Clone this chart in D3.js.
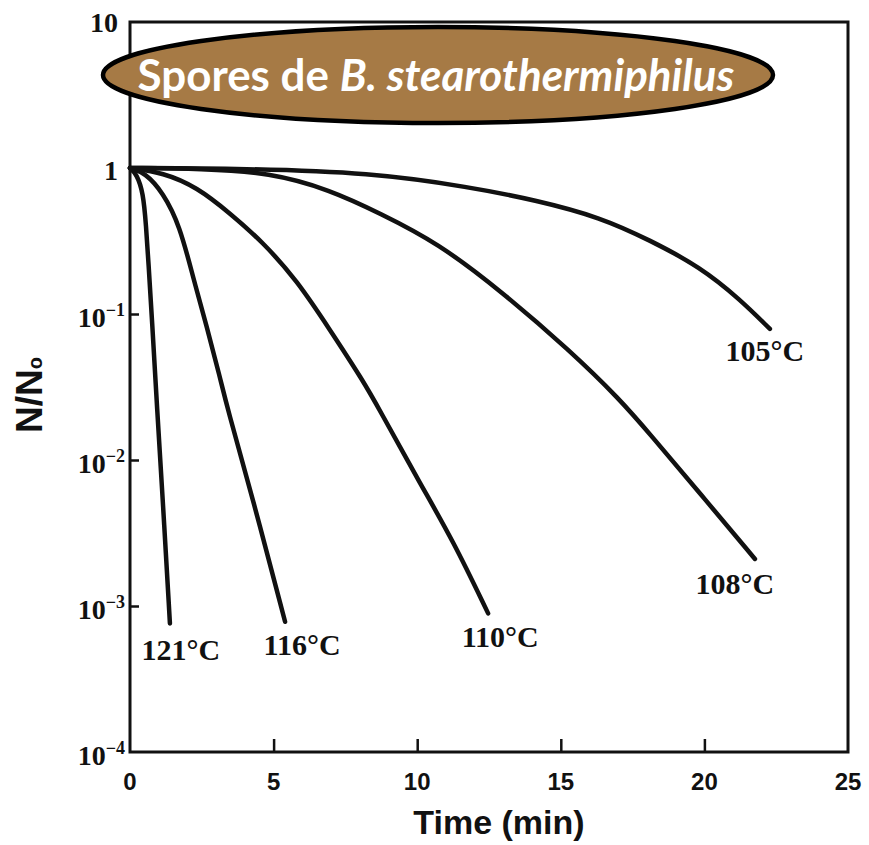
<!DOCTYPE html>
<html>
<head>
<meta charset="utf-8">
<script src="https://cdn.jsdelivr.net/npm/d3@7"></script>
<style>
  html, body { margin: 0; padding: 0; background: #fff; }
  svg { display: block; }
</style>
</head>
<body>
<svg id="chart" width="869" height="845"></svg>
<script>
// Survival curves of B. stearothermophilus spores at several temperatures
// time in minutes, survival as N/N0 (log scale)
const temps = ["121°C", "116°C", "110°C", "108°C", "105°C"];

const time121  = [0, 0.23, 0.46, 0.56, 0.64, 0.77, 0.94, 1.15, 1.39];
const ratio121 = [1, 0.91, 0.68, 0.40, 0.23, 0.089, 0.023, 0.0050, 0.00076];

const time116  = [0, 0.52, 1.15, 1.74, 2.19, 2.68, 3.13, 3.38, 4.28, 5.40];
const ratio116 = [1, 0.93, 0.68, 0.40, 0.18, 0.081, 0.037, 0.023, 0.0054, 0.00078];

const time110  = [0, 1.15, 2.33, 3.48, 4.63, 5.81, 6.96, 8.11, 8.64, 10.10, 11.25, 12.47];
const ratio110 = [1, 0.93, 0.74, 0.49, 0.31, 0.17, 0.078, 0.035, 0.023, 0.0069, 0.0028, 0.00089];

const time108  = [0, 2.5, 4.87, 6.96, 8.70, 10.69, 12.99, 15.32, 17.06, 18.11, 19.85, 21.76];
const ratio108 = [1, 0.99, 0.93, 0.71, 0.49, 0.31, 0.14, 0.056, 0.026, 0.015, 0.0059, 0.0021];

const time105  = [0, 4.0, 8.36, 11.84, 14.17, 16.37, 18.11, 19.85, 21.24, 22.28];
const ratio105 = [1, 0.99, 0.93, 0.74, 0.60, 0.46, 0.32, 0.21, 0.126, 0.079];

const xTicks = [0, 5, 10, 15, 20, 25];
const yTicks = [10, 1, 1e-1, 1e-2, 1e-3, 1e-4];
const yTickExp = ["", "", "-1", "-2", "-3", "-4"];

const title = "Spores de ";
const titleItalic = "B. stearothermiphilus";

const svg = d3.select("#chart");

const x = d3.scaleLinear().domain([0, 25]).range([130, 848]);
const y = d3.scaleLog().domain([1e-4, 10]).range([752, 22]);

const series = [
  { label: temps[0], t: time121, v: ratio121, dx: 11, dy: 37 },
  { label: temps[1], t: time116, v: ratio116, dx: 17, dy: 33 },
  { label: temps[2], t: time110, v: ratio110, dx: 12, dy: 34 },
  { label: temps[3], t: time108, v: ratio108, dx: -20, dy: 35 },
  { label: temps[4], t: time105, v: ratio105, dx: -5, dy: 32 }
];

// ticks (pointing inward)
const xAxis = d3.axisBottom(x).tickValues(xTicks.slice(1, -1)).tickSize(-13).tickFormat("");
svg.append("g").attr("transform", "translate(0,752)").call(xAxis)
  .call(g => g.select(".domain").remove())
  .call(g => g.selectAll(".tick line").attr("stroke", "#111").attr("stroke-width", 2.5));

const yAxis = d3.axisLeft(y).tickValues(yTicks.slice(2, -1)).tickSize(-9).tickFormat("");
svg.append("g").attr("transform", "translate(130,0)").call(yAxis)
  .call(g => g.select(".domain").remove())
  .call(g => g.selectAll(".tick line").attr("stroke", "#111").attr("stroke-width", 2.5));

// frame
svg.append("rect")
  .attr("x", x(0)).attr("y", y(10))
  .attr("width", x(25) - x(0)).attr("height", y(1e-4) - y(10))
  .attr("fill", "none").attr("stroke", "#111").attr("stroke-width", 3);

// x tick labels
svg.append("g").selectAll("text").data(xTicks).join("text")
  .attr("x", d => x(d)).attr("y", 790)
  .attr("text-anchor", "middle")
  .attr("font-family", "Liberation Sans, Arial, sans-serif")
  .attr("font-weight", "bold").attr("font-size", 24).attr("fill", "#111")
  .text(d => d);

// y tick labels with superscript exponents
const yl = svg.append("g").selectAll("text").data(yTicks).join("text")
  .attr("font-family", "Liberation Serif, Times New Roman, serif")
  .attr("font-weight", "bold").attr("fill", "#111")
  .attr("text-anchor", "end")
  .attr("x", (d, i) => yTickExp[i] ? 125 : 118)
  .attr("y", (d, i) => y(d) + (yTickExp[i] ? 13 : (d === 10 ? 10 : 12)))
  .attr("font-size", (d, i) => yTickExp[i] ? 28 : 28);
yl.each(function(d, i) {
  const t = d3.select(this);
  t.append("tspan").text(d === 1 ? "1" : "10");
  if (yTickExp[i]) {
    t.append("tspan").attr("font-size", 18).attr("dy", -11).text(yTickExp[i].replace("-", "−"));
  }
});

// axis titles
svg.append("text")
  .attr("x", 499).attr("y", 834)
  .attr("text-anchor", "middle")
  .attr("font-family", "Liberation Sans, Arial, sans-serif")
  .attr("font-weight", "bold").attr("font-size", 34).attr("fill", "#111")
  .text("Time (min)");

const yt = svg.append("text")
  .attr("transform", "translate(42,395) rotate(-90)")
  .attr("text-anchor", "middle")
  .attr("font-family", "Liberation Sans, Arial, sans-serif")
  .attr("font-weight", "bold").attr("font-size", 37).attr("fill", "#111");
yt.append("tspan").text("N/N");
yt.append("tspan").attr("font-size", 20).text("o");

// survival curves
const line = d3.line()
  .x(d => x(d[0]))
  .y(d => y(d[1]))
  .curve(d3.curveBasis);

svg.append("g").selectAll("path").data(series).join("path")
  .attr("d", s => line(s.t.map((t, i) => [t, s.v[i]])))
  .attr("fill", "none").attr("stroke", "#111")
  .attr("stroke-width", 4.5).attr("stroke-linecap", "round").attr("stroke-linejoin", "round");

// curve labels at the end of each curve
svg.append("g").selectAll("text").data(series).join("text")
  .attr("x", s => x(s.t[s.t.length - 1]) + s.dx)
  .attr("y", s => y(s.v[s.v.length - 1]) + s.dy)
  .attr("text-anchor", "middle")
  .attr("font-family", "Liberation Serif, Times New Roman, serif")
  .attr("font-weight", "bold").attr("font-size", 30).attr("fill", "#111")
  .text(s => s.label);

// title banner
const banner = svg.append("g");
banner.append("ellipse")
  .attr("cx", 438).attr("cy", 75).attr("rx", 335).attr("ry", 48)
  .attr("fill", "#A67A45").attr("stroke", "#000").attr("stroke-width", 4.5);

const tt = banner.append("text")
  .attr("x", 436).attr("y", 91)
  .attr("text-anchor", "middle")
  .attr("font-family", "Lato, Open Sans, sans-serif")
  .attr("font-weight", "bold").attr("font-size", 36).attr("fill", "#fff");
tt.append("tspan").text(title);
tt.append("tspan").attr("font-style", "italic").text(titleItalic);
// scale the font so the title spans the banner width
const w = tt.node().getComputedTextLength();
tt.attr("font-size", 36 * 597 / w);
</script>
</body>
</html>
